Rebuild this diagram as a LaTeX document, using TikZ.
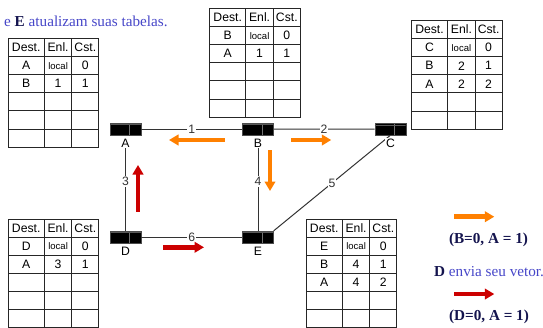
\documentclass[tikz,border=0pt]{standalone}
\usepackage{fontspec}
\setmainfont{Liberation Sans}
\newfontfamily\timesfont{Liberation Serif}
\usetikzlibrary{positioning,arrows.meta}
\definecolor{flowA}{HTML}{FF8000}
\definecolor{flowB}{HTML}{CC0000}
\definecolor{slide}{HTML}{4646C8}
\definecolor{navy}{HTML}{14144E}
\newcommand{\lcl}{\fontsize{9.5}{10}\selectfont local}
\newcommand{\rtable}[4]{
	\foreach \d/\e/\c [count=\r from 0] in {Dest./Enl./Cst.,#4}{
		\node [cell,minimum width=36.4pt] (#1-\r-1) at (#2+18.2,#3+\r*18.1+9.05) {\d};
		\node [cell,minimum width=27.4pt] (#1-\r-2) at (#2+50.1,#3+\r*18.1+9.05) {\e};
		\node [cell,minimum width=27pt] (#1-\r-3) at (#2+77.3,#3+\r*18.1+9.05) {\c};
	}
}
\begin{document}
\begin{tikzpicture}[x=1pt,y=-1pt]
	\tikzstyle{cell}=[rectangle,draw=black!85,line width=1pt,minimum height=18.1pt,inner sep=0,outer sep=0,font=\fontsize{12.2}{14}\selectfont]
	\tikzstyle{router}=[rectangle,fill=black,draw=black!70,line width=0.4pt,minimum width=31pt,minimum height=12pt,inner sep=0,
		path picture={
			\draw[black!55,line width=0.5pt] ([xshift=4pt]path picture bounding box.north)--([xshift=4pt]path picture bounding box.south);
			\draw[black!65,line width=0.4pt] ([yshift=-1.5pt]path picture bounding box.north west)--([yshift=-1.5pt]path picture bounding box.north east);
		}]
	\tikzstyle{tag}=[fill=white,inner sep=1pt,font=\fontsize{12.2}{14}\selectfont]
	\tikzstyle{weight}=[fill=white,inner sep=1pt,font=\fontsize{12.2}{14}\selectfont]
	\tikzstyle{link}=[line width=1pt,black!80]
	\tikzstyle{flow}=[line width=4.8pt,-{Triangle[length=9.5pt,width=10.5pt]}]
	\tikzstyle{slidetext}=[inner sep=0,font=\timesfont\fontsize{15.2}{17}\selectfont]

	\clip (0,0) rectangle (543,327);

	\node [router] (A) at (125.5,129) {};
	\node [router] (B) at (258,129) {};
	\node [router] (C) at (390.2,129.2) {};
	\node [router] (D) at (125.5,237) {};
	\node [router] (E) at (258,237) {};

	\node [tag,below=2.5pt of A] (lA) {A};
	\node [tag,below=2.5pt of B] (lB) {B};
	\node [tag,below=2.5pt of D] (lD) {D};
	\node [tag,below=2.5pt of E] (lE) {E};
	\node [tag,anchor=north] (lC) at (390.5,138) {C};

	\draw[link] (A)--node[weight]{1}(B);
	\draw[link] (B)--node[weight]{2}(C);
	\draw[link] (lA)--node[weight,pos=.4]{3}(D);
	\draw[link] (lB)--node[weight,pos=.4]{4}(E);
	\draw[link] (C.south)--node[weight]{5}(E.north east);
	\draw[link] (D)--node[weight]{6}(E);
	\node [tag] at (lC) {C};

	\rtable{tA}{8}{38.5}{A/\lcl/0,B/1/1,{}/{}/{},{}/{}/{},{}/{}/{}}
	\rtable{tB}{209.5}{8.5}{B/\lcl/0,A/1/1,{}/{}/{},{}/{}/{},{}/{}/{}}
	\rtable{tC}{411.3}{20.5}{C/\lcl/0,B/2/1,A/2/2,{}/{}/{},{}/{}/{}}
	\rtable{tD}{8}{219}{D/\lcl/0,A/3/1,{}/{}/{},{}/{}/{},{}/{}/{}}
	\rtable{tE}{306}{219}{E/\lcl/0,B/4/1,A/4/2,{}/{}/{},{}/{}/{}}

	\coordinate (f1s) at (224.5,140);
	\coordinate (f1e) at (169,140);
	\coordinate (f2s) at (291,140);
	\coordinate (f2e) at (331.3,140);
	\coordinate (f3s) at (270,150);
	\coordinate (f3e) at (270,191);
	\coordinate (f4s) at (138,211.7);
	\coordinate (f4e) at (138,165);
	\coordinate (f5s) at (163.3,247.3);
	\coordinate (f5e) at (204,247.3);
	\coordinate (k1s) at (454,216.7);
	\coordinate (k1e) at (494.3,216.7);
	\coordinate (k2s) at (454,294);
	\coordinate (k2e) at (494.3,294);

	\draw[flow,flowA] (f1s)--(f1e);
	\draw[flow,flowA] (f2s)--(f2e);
	\draw[flow,flowA] (f3s)--(f3e);
	\draw[flow,flowB] (f4s)--(f4e);
	\draw[flow,flowB] (f5s)--(f5e);
	\draw[flow,flowA] (k1s)--(k1e);
	\draw[flow,flowB] (k2s)--(k2e);

	\node [slidetext,anchor=west,text=slide] (top) at (4,21) {e {\bfseries\color{navy}E} atualizam suas tabelas.};
	\node [slidetext,text=navy,font=\timesfont\bfseries\fontsize{15.2}{17}\selectfont] (vecB) at (488.5,240) {(B=0, A = 1)};
	\node [slidetext,anchor=west,text=slide] (send) at (434,272) {{\bfseries\color{navy}D} envia seu vetor.};
	\node [slidetext,text=navy,font=\timesfont\bfseries\fontsize{15.2}{17}\selectfont] (vecD) at (489,317) {(D=0, A = 1)};
\end{tikzpicture}
\end{document}
